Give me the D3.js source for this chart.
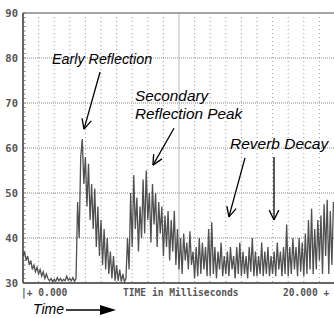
<!DOCTYPE html>
<html>
<head>
<meta charset="utf-8">
<script src="https://cdn.jsdelivr.net/npm/d3@7"></script>
<style>
  body { margin: 0; background: #fff; }
  svg { display: block; }
  .tick-label { font-family: "DejaVu Sans Mono", monospace; font-weight: bold; fill: #555; }
  .note { font-family: "Liberation Sans", Arial, sans-serif; font-style: italic; fill: #000; }
</style>
</head>
<body>
<svg id="chart" width="334" height="318"></svg>
<script>
// level ticks (dB) and time axis labels
const yTicks = [30, 40, 50, 60, 70, 80, 90];
const xGridMs = d3.range(0, 21, 1);
const xLabelLeft = "|+ 0.000";
const xLabelMid = "TIME in Milliseconds";
const xLabelRight = "20.000 +";

const sampleStepMs = 0.1;
const traceDb = [
  36, 37, 35, 36, 34, 35, 33, 34, 32.5, 33.5,
  32, 33, 31.5, 32.5, 31, 32, 31, 30.5, 31, 30.3,
  30.8, 30.4, 31.2, 30.5, 31, 30.4, 30.8, 30.5, 31.5, 30.6,
  31, 30.5, 31.2, 30.4, 31, 48, 40, 58, 62, 52,
  58, 47, 56.5, 44, 52, 42, 51, 38, 47, 36,
  44, 34, 42, 33, 40, 32, 37, 31, 36, 30.5,
  34, 30.5, 33, 30.3, 32, 30.3, 31, 40, 33, 50,
  38, 54, 42, 49, 37, 47, 40, 53, 41, 55,
  44, 50, 39, 52, 43, 50, 38, 48, 41, 47,
  36, 45, 38, 46, 35, 44, 37, 46, 34, 42,
  33, 40, 32, 41, 35, 39, 33, 41.5, 34, 37,
  31, 38, 31.5, 40, 32, 39, 33, 38, 31.5, 42,
  31.5, 43.5, 32, 38, 31, 37, 33, 39, 31.5, 36,
  32, 37, 31.5, 38, 33, 36, 31, 38, 32, 39,
  31.5, 37, 32, 36, 31, 38, 32.5, 40, 31.5, 37,
  31.5, 36, 32, 39, 31.5, 37, 32, 38, 31.5, 36,
  32, 37, 31.5, 39, 33, 37, 31.5, 38, 32, 43,
  31.5, 38, 32, 40, 33, 38, 31.5, 40, 32.5, 39,
  31.5, 41, 32, 44, 33, 46.5, 32, 42, 33, 44,
  35, 45, 32, 47.5, 36, 48.5, 32, 46, 34, 48
];

// annotations in data units (ms, dB)
const noteTexts = [
  { lines: ["Early Reflection"], ms: 1.86, db: 78.7, size: 14.3 },
  { lines: ["Secondary", "Reflection Peak"], ms: 7.18, db: 70.4, size: 15.3 },
  { lines: ["Reverb Decay"], ms: 13.27, db: 59.8, size: 15.5 }
];
const noteArrows = [
  { from: [4.94, 76.9], to: [3.91, 64.2] },
  { from: [9.68, 64.4], to: [8.33, 56.2] },
  { from: [14.23, 57.8], to: [13.2, 44.7] },
  { from: [16.09, 58.0], to: [16.09, 44.0] }
];

const svg = d3.select("#chart");
const x = d3.scaleLinear().domain([0, 20]).range([23, 335]);
const y = d3.scaleLinear().domain([30, 90]).range([283, 13]);

// grid
svg.append("g").selectAll("line")
  .data(xGridMs.filter(d => d > 0 && d !== 10))
  .join("line")
  .attr("x1", d => x(d)).attr("x2", d => x(d))
  .attr("y1", y(90)).attr("y2", y(30))
  .attr("stroke", "#999").attr("stroke-width", 1)
  .attr("stroke-dasharray", "1,3");

svg.append("line")
  .attr("x1", x(10)).attr("x2", x(10))
  .attr("y1", y(90)).attr("y2", y(30))
  .attr("stroke", "#bbb").attr("stroke-width", 1);

svg.append("g").selectAll("line")
  .data(yTicks.filter(d => d > 30 && d < 90))
  .join("line")
  .attr("x1", x(0)).attr("x2", 334)
  .attr("y1", d => y(d)).attr("y2", d => y(d))
  .attr("stroke", "#888").attr("stroke-width", 1)
  .attr("stroke-dasharray", "1,1");

// trace
const line = d3.line()
  .x((d, i) => x(i * sampleStepMs))
  .y(d => y(d));

svg.append("path")
  .datum(traceDb)
  .attr("d", line)
  .attr("fill", "none")
  .attr("stroke", "#505050")
  .attr("stroke-width", 1.3)
  .attr("stroke-linejoin", "miter");

// frame: top, left and bottom
svg.append("line").attr("x1", x(0)).attr("x2", 334).attr("y1", y(90)).attr("y2", y(90))
  .attr("stroke", "#888").attr("stroke-width", 1.5);
svg.append("line").attr("x1", x(0)).attr("x2", 334).attr("y1", y(30)).attr("y2", y(30))
  .attr("stroke", "#333").attr("stroke-width", 1.5);
svg.append("line").attr("x1", x(0)).attr("x2", x(0)).attr("y1", y(90)).attr("y2", y(30))
  .attr("stroke", "#333").attr("stroke-width", 1.5);

// minor ticks on the level axis
svg.append("g").selectAll("line")
  .data(d3.range(30, 91, 1))
  .join("line")
  .attr("x1", x(0)).attr("x2", x(0) + 2.5)
  .attr("y1", d => y(d)).attr("y2", d => y(d))
  .attr("stroke", "#666").attr("stroke-width", 0.8);

// level labels
svg.append("g").selectAll("text")
  .data(yTicks)
  .join("text")
  .attr("class", "tick-label")
  .attr("x", 18)
  .attr("y", d => y(d))
  .attr("dy", "0.35em")
  .attr("text-anchor", "end")
  .attr("font-size", 10.5)
  .text(d => d);

// time labels
const timeLabels = svg.append("g").attr("class", "tick-label").attr("font-size", 9.6);
timeLabels.append("text").attr("x", 21).attr("y", 296).text(xLabelLeft);
timeLabels.append("text").attr("x", 123).attr("y", 296).text(xLabelMid);
timeLabels.append("text").attr("x", 283).attr("y", 296).text(xLabelRight);

// annotation text
noteTexts.forEach(n => {
  const t = svg.append("text")
    .attr("class", "note")
    .attr("font-size", n.size)
    .attr("x", x(n.ms))
    .attr("y", y(n.db));
  n.lines.forEach((s, i) => {
    t.append("tspan").attr("x", x(n.ms)).attr("dy", i === 0 ? 0 : "1.18em").text(s);
  });
});

// annotation arrows with open heads
function arrow(x1, y1, x2, y2, head) {
  const a = Math.atan2(y2 - y1, x2 - x1);
  const g = svg.append("g").attr("stroke", "#000").attr("stroke-width", 1.3).attr("fill", "none");
  g.append("line").attr("x1", x1).attr("y1", y1).attr("x2", x2).attr("y2", y2);
  [-0.45, 0.45].forEach(s => {
    g.append("line")
      .attr("x1", x2).attr("y1", y2)
      .attr("x2", x2 - head * Math.cos(a + s))
      .attr("y2", y2 - head * Math.sin(a + s));
  });
}
noteArrows.forEach(d => arrow(x(d.from[0]), y(d.from[1]), x(d.to[0]), y(d.to[1]), 11));

// "Time" with filled arrow below the axis
svg.append("text").attr("class", "note").attr("font-size", 14)
  .attr("x", 33).attr("y", 314).text("Time");
svg.append("line").attr("x1", 66).attr("x2", 101).attr("y1", 310).attr("y2", 310)
  .attr("stroke", "#000").attr("stroke-width", 1.3);
svg.append("path").attr("d", "M100,305 L116,310 L100,315 Z").attr("fill", "#000");
</script>
</body>
</html>
